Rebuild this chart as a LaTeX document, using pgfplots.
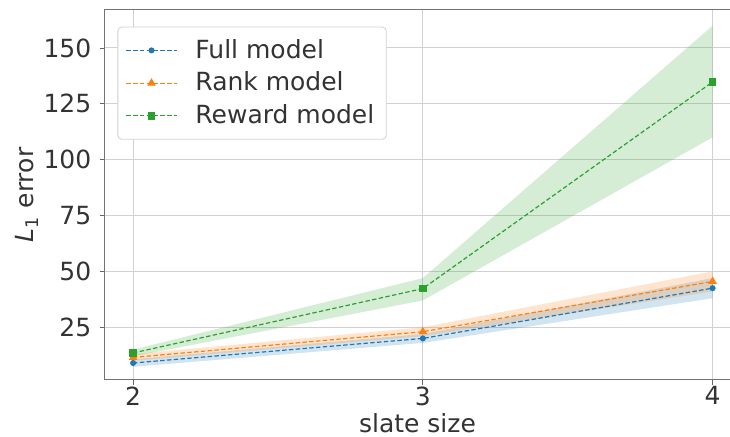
\documentclass[border=0pt]{standalone}
\usepackage{pgfplots}
\pgfplotsset{compat=1.18}
\usepackage{fontspec}
\setmainfont{DejaVu Sans}
\definecolor{tabblue}{HTML}{1F77B4}
\definecolor{taborange}{HTML}{FF7F0E}
\definecolor{tabgreen}{HTML}{2CA02C}
\begin{document}
\fontsize{12.5}{14}\selectfont
\begin{tikzpicture}
\useasboundingbox (-52.5pt,-28.5pt) rectangle (312.5pt,190pt);
\begin{axis}[
  scale only axis,
  width=312.5pt, height=185pt,
  xmin=1.903, xmax=4.06,
  ymin=1.4, ymax=167,
  xtick={2,3,4},
  ytick={25,50,75,100,125,150},
  /pgf/number format/assume math mode=true,
  tick label style={font=\fontsize{12.5}{14}\selectfont, text=black!80},
  xticklabel style={yshift=3.5pt},
  label style={font=\fontsize{12.5}{14}\selectfont, text=black!80},
  xlabel={slate size},
  ylabel={\textit{L}\textsubscript{1} error},
  xlabel style={at={(axis description cs:0.5,0)}, anchor=base, yshift=-26.5pt},
  ylabel style={yshift=-6pt},
  tick align=outside,
  tick pos=left,
  major tick length=2.5pt,
  every tick/.style={black!60, line width=0.4pt},
  axis line style={black!55, line width=0.5pt},
  grid=major,
  major grid style={black!18, line width=0.5pt},
  legend style={at={(0.02,0.955)}, anchor=north west, draw=black!18, rounded corners=2pt,
    font=\fontsize{12.5}{14}\selectfont, text=black!80, row sep=1pt, inner sep=4pt,
    legend cell align=left},
  legend image code/.code={
    \draw[mark repeat=2,mark phase=2] plot coordinates {(0cm,0cm) (0.44cm,0cm) (0.88cm,0cm)};
    \path (1.13cm,0cm);
  },
]
% bands
\addplot[draw=none, fill=tabblue, fill opacity=0.2, forget plot] coordinates {(2,7.3) (3,18) (4,38) (4,47) (3,22) (2,10.7)} -- cycle;
\addplot[draw=none, fill=taborange, fill opacity=0.2, forget plot] coordinates {(2,10) (3,21) (4,41) (4,50) (3,25) (2,13)} -- cycle;
\addplot[draw=none, fill=tabgreen, fill opacity=0.2, forget plot] coordinates {(2,12) (3,37) (4,110) (4,160) (3,47) (2,15)} -- cycle;
% lines
\addplot[tabblue, dash pattern=on 2.2pt off 1.2pt, line width=0.6pt, mark=*, mark size=1.2pt, mark options={solid}] coordinates {(2,9) (3,20) (4,42.5)};
\addlegendentry{Full model}
\addplot[taborange, dash pattern=on 2.2pt off 1.2pt, line width=0.6pt, mark=triangle*, mark size=1.9pt, mark options={solid}] coordinates {(2,11.5) (3,23) (4,45.5)};
\addlegendentry{Rank model}
\addplot[tabgreen, dash pattern=on 2.2pt off 1.2pt, line width=0.6pt, mark=square*, mark size=1.6pt, mark options={solid}] coordinates {(2,13.5) (3,42.3) (4,134.8)};
\addlegendentry{Reward model}
\end{axis}
\end{tikzpicture}
\end{document}
